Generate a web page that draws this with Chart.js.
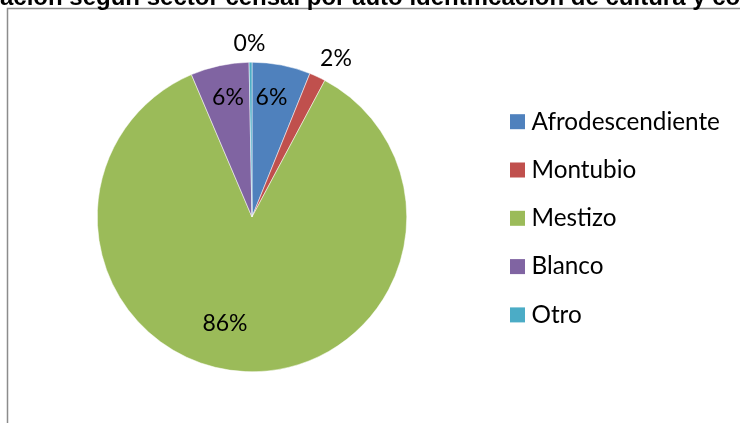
<!DOCTYPE html>
<html>
<head>
<meta charset="utf-8">
<script src="https://cdn.jsdelivr.net/npm/chart.js@4/dist/chart.umd.min.js"></script>
<style>
  html, body { margin: 0; padding: 0; background: #fff; }
  #wrap { width: 740px; height: 423px; position: relative; }
</style>
</head>
<body>
<div id="wrap"><canvas id="grafico"></canvas></div>
<script>
// datos
const categorias = ["Afrodescendiente", "Montubio", "Mestizo", "Blanco", "Otro"];
const porcentajes = [6.1, 1.7, 85.8, 6.1, 0.3];
const etiquetas = ["6%", "2%", "86%", "6%", "0%"];
const colores = ["#4F81BD", "#C0504D", "#9BBB59", "#8064A2", "#4BACC6"];
const titulo = "Población según sector censal por auto identificación de cultura y costumbres";

const fuente = "Lato, 'Open Sans', sans-serif";

// desplazamiento de cada etiqueta respecto al centro del pastel
const etiquetaDx = [19.5, 84, -27, -24, -2.5];
const etiquetaDy = [-119.5, -158.5, 107, -119.5, -173];

// marco y titulo (cortado arriba como en la imagen)
const marco = {
  id: "marco",
  beforeDraw(chart) {
    const ctx = chart.ctx;
    ctx.save();
    ctx.strokeStyle = "#8c8c8c";
    ctx.lineWidth = 1.5;
    ctx.strokeRect(7.5, 8.5, 760, 440);
    ctx.font = "bold 24px 'Liberation Sans', Arial, sans-serif";
    ctx.fillStyle = "#000";
    ctx.textBaseline = "alphabetic";
    const corte = ctx.measureText("Pobl").width;
    ctx.fillText(titulo, -corte, 5);
    ctx.restore();
  }
};

// porcentajes sobre las porciones
const etiquetasPie = {
  id: "etiquetasPie",
  afterDatasetsDraw(chart) {
    const ctx = chart.ctx;
    const meta = chart.getDatasetMeta(0);
    ctx.save();
    ctx.font = "23px " + fuente;
    ctx.fillStyle = "#000";
    ctx.textAlign = "center";
    ctx.textBaseline = "middle";
    meta.data.forEach((arc, i) => {
      ctx.fillText(etiquetas[i], arc.x + etiquetaDx[i], arc.y + etiquetaDy[i]);
    });
    ctx.restore();
  }
};

// leyenda a la derecha
const leyenda = {
  id: "leyenda",
  afterDraw(chart) {
    const ctx = chart.ctx;
    ctx.save();
    ctx.font = "24.3px " + fuente;
    ctx.textBaseline = "alphabetic";
    categorias.forEach((c, i) => {
      const y = 121.7 + i * 48.3;
      ctx.fillStyle = colores[i];
      ctx.fillRect(510, y - 7.5, 15, 15);
      ctx.fillStyle = "#000";
      ctx.fillText(c, 531.5, y + 7.8);
    });
    ctx.restore();
  }
};

new Chart(document.getElementById("grafico"), {
  type: "pie",
  data: {
    labels: categorias,
    datasets: [{
      data: porcentajes,
      backgroundColor: colores,
      borderColor: "#ffffff",
      borderWidth: 0.5
    }]
  },
  options: {
    responsive: true,
    maintainAspectRatio: false,
    animation: false,
    layout: { padding: { left: 97, right: 333, top: 62, bottom: 51 } },
    plugins: {
      legend: { display: false },
      tooltip: { enabled: false },
      title: { display: false }
    }
  },
  plugins: [marco, etiquetasPie, leyenda]
});
</script>
</body>
</html>
